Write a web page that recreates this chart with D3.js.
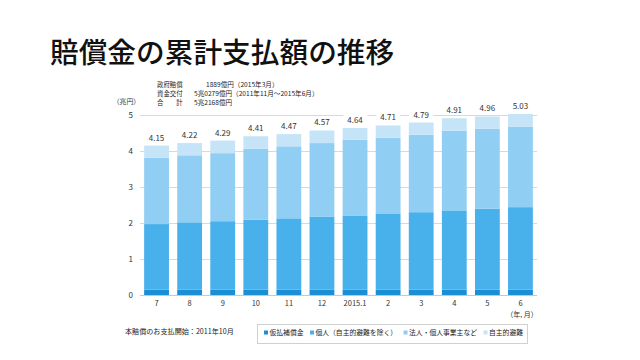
<!DOCTYPE html>
<html><head><meta charset="utf-8">
<script src="https://cdn.jsdelivr.net/npm/d3@7"></script>
<style>html,body{margin:0;padding:0;background:#fff;}svg{display:block;}</style>
</head><body>
<svg id="c" width="640" height="360"></svg>
<script>
const categories = ["7","8","9","10","11","12","2015.1","2","3","4","5","6"];
const seriesNames = ["仮払補償金","個人（自主的避難を除く）","法人・個人事業主など","自主的避難"];
const karibarai = [0.15,0.15,0.15,0.15,0.15,0.15,0.15,0.15,0.15,0.15,0.15,0.15];
const kojin     = [1.82,1.87,1.90,1.94,1.98,2.03,2.06,2.10,2.15,2.20,2.25,2.29];
const hojin     = [1.84,1.86,1.89,1.97,2.00,2.04,2.10,2.12,2.15,2.21,2.22,2.24];
const jishu     = [0.34,0.34,0.35,0.35,0.34,0.35,0.33,0.34,0.34,0.35,0.34,0.35];
const totals    = ["4.15","4.22","4.29","4.41","4.47","4.57","4.64","4.71","4.79","4.91","4.96","5.03"];
const yTicks = [0,1,2,3,4,5];
const colors = ["#1a8fd6","#48b0ea","#90cff3","#c6e4f8"];

const font = "'Noto Sans CJK JP','Noto Sans',sans-serif";
const svg = d3.select("#c");

// title
svg.append("text").attr("x",50).attr("y",63).attr("font-family",font)
  .attr("font-size",28.7).attr("font-weight",500).attr("fill","#111")
  .text("賠償金の累計支払額の推移");

const x = d3.scaleBand().domain(categories).range([140,537]).paddingInner(0.25).paddingOuter(0.125);
const y = d3.scaleLinear().domain([0,5]).range([295,115]);

// gridlines
svg.append("g").selectAll("line").data(yTicks.filter(d=>d>0)).join("line")
  .attr("x1",140).attr("x2",537).attr("y1",d=>y(d)).attr("y2",d=>y(d))
  .attr("stroke","#d9d9d9").attr("stroke-width",1).attr("shape-rendering","crispEdges");

// y axis
const yAxis = d3.axisLeft(y).tickValues(yTicks).tickSize(0).tickPadding(0).tickFormat(d3.format("d"));
const ya = svg.append("g").attr("transform","translate(133,0)").call(yAxis);
ya.select(".domain").remove();
ya.selectAll("text").attr("font-family",font).attr("font-size",8).attr("fill","#333");

// stacked data
const rows = categories.map((c,i)=>({cat:c, s0:karibarai[i], s1:kojin[i], s2:hojin[i], s3:jishu[i]}));
const stack = d3.stack().keys(["s0","s1","s2","s3"]);
const layers = stack(rows);
svg.append("g").selectAll("g").data(layers).join("g").attr("fill",(d,i)=>colors[i])
  .selectAll("rect").data(d=>d).join("rect")
  .attr("x",d=>x(d.data.cat)).attr("width",x.bandwidth())
  .attr("y",d=>y(d[1])).attr("height",d=>y(d[0])-y(d[1]));

// x axis baseline
svg.append("line").attr("x1",140).attr("x2",537).attr("y1",y(0)+0.5).attr("y2",y(0)+0.5)
  .attr("stroke","#c8c8c8").attr("stroke-width",1);

const xAxis = d3.axisBottom(x).tickSize(0).tickPadding(0);
const xa = svg.append("g").attr("transform",`translate(0,${y(0)+11})`).call(xAxis);
xa.select(".domain").remove();
xa.selectAll("text").attr("dy",0).attr("font-family",font).attr("font-size",7.5).attr("fill","#333");

svg.append("text").attr("x",522).attr("y",317).attr("text-anchor","middle")
  .attr("font-family",font).attr("font-size",7).attr("fill","#333").text("（年, 月）");

// total labels with white background
const topLayer = layers[3];
const lblG = svg.append("g");
topLayer.forEach((d,i)=>{
  const cx = x(d.data.cat)+x.bandwidth()/2, ty = y(d[1])-5;
  const t = lblG.append("text").attr("x",cx).attr("y",ty).attr("text-anchor","middle")
    .attr("font-family",font).attr("font-size",8).attr("fill","#333").text(totals[i]);
  const b = t.node().getBBox();
  lblG.insert("rect","text").attr("x",b.x-4).attr("y",b.y+1).attr("width",b.width+8).attr("height",b.height-2).attr("fill","#fff");
});

// unit
svg.append("text").attr("x",140).attr("y",104).attr("text-anchor","end")
  .attr("font-family",font).attr("font-size",6.8).attr("fill","#333").text("（兆円）");

// header notes
const noteLabels = ["政府賠償","資金交付","合　　計"];
const noteValues = ["1889億円（2015年3月）","5兆0279億円（2011年11月～2015年6月）","5兆2168億円"];
const noteValueX = [206,194,194];
noteLabels.forEach((n,i)=>{
  const yy = 86.5 + i*9;
  svg.append("text").attr("x",157).attr("y",yy).attr("font-family",font).attr("font-size",6.4).attr("fill","#222").text(n);
  svg.append("text").attr("x",noteValueX[i]).attr("y",yy).attr("font-family",font).attr("font-size",6.6).attr("fill","#222").text(noteValues[i]);
});

// footnote
svg.append("text").attr("x",125).attr("y",334).attr("font-family",font).attr("font-size",7.1).attr("fill","#222")
  .text("本賠償のお支払開始：2011年10月");

// legend
svg.append("rect").attr("x",257.5).attr("y",324.5).attr("width",270).attr("height",19)
  .attr("fill","#fff").attr("stroke","#d0d0d0");
let lx = 264;
seriesNames.forEach((n,i)=>{
  svg.append("rect").attr("x",lx).attr("y",330.5).attr("width",4).attr("height",4).attr("fill",colors[i]);
  const t = svg.append("text").attr("x",lx+5.5).attr("y",335).attr("font-family",font).attr("font-size",6.8).attr("fill","#222").text(n);
  lx += 5.5 + t.node().getComputedTextLength() + 6.5;
});
</script>
</body></html>
